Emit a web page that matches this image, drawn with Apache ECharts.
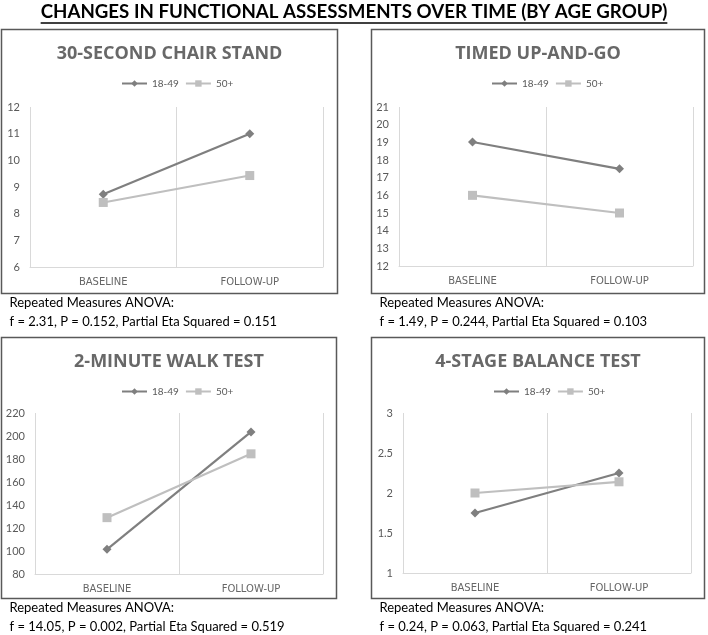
<!DOCTYPE html>
<html>
<head>
<meta charset="utf-8">
<script src="https://cdn.jsdelivr.net/npm/echarts@6/dist/echarts.min.js"></script>
<style>
  html, body { margin: 0; padding: 0; background: #fff; }
  #main { width: 708px; height: 635px; }
</style>
</head>
<body>
<div id="main"></div>
<script>
// data
var categories = ['BASELINE', 'FOLLOW-UP'];
var groups = ['18-49', '50+'];

var chairYoung = [8.73, 11.0];
var chairOld = [8.42, 9.43];
var tugYoung = [19.02, 17.5];
var tugOld = [16.0, 15.0];
var walkYoung = [101.5, 203.5];
var walkOld = [129, 184.5];
var balanceYoung = [1.75, 2.25];
var balanceOld = [2.0, 2.14];

var panelTitles = ['30-SECOND CHAIR STAND', 'TIMED UP-AND-GO', '2-MINUTE WALK TEST', '4-STAGE BALANCE TEST'];
var statLines = [
    'f = 2.31, P = 0.152, Partial Eta Squared = 0.151',
    'f = 1.49, P = 0.244, Partial Eta Squared = 0.103',
    'f = 14.05, P = 0.002, Partial Eta Squared = 0.519',
    'f = 0.24, P = 0.063, Partial Eta Squared = 0.241'
];
var yMin = [6, 12, 80, 1];
var yMax = [12, 21, 220, 3];
var yStep = [1, 1, 20, 0.5];

var mainTitle = 'CHANGES IN FUNCTIONAL ASSESSMENTS OVER TIME (BY AGE GROUP)';

var myChart = echarts.init(document.getElementById('main'));

// layout of the four panels (box + plot area)
var panels = [
    { box: [1.5, 29.5, 336, 264], grid: { left: 30, right: 385, top: 107, bottom: 368 }, legendX: 116 },
    { box: [371.5, 29.5, 333, 264], grid: { left: 399, right: 15, top: 107, bottom: 369 }, legendX: 486 },
    { box: [1.5, 337.5, 335, 261], grid: { left: 35, right: 385, top: 413, bottom: 61 }, legendX: 116 },
    { box: [371.5, 337.5, 333, 261], grid: { left: 403, right: 17, top: 413, bottom: 62 }, legendX: 488 }
];
var seriesData = [[chairYoung, chairOld], [tugYoung, tugOld], [walkYoung, walkOld], [balanceYoung, balanceOld]];

var DARK = '#7f7f7f';
var LIGHT = '#bfbfbf';
var FONT = 'Lato';

// measure the main title so the underline fits it
var ctx = document.createElement('canvas').getContext('2d');
ctx.font = 'bold 18.7px ' + FONT;
var titleW = ctx.measureText(mainTitle).width;

var grids = [], xAxes = [], yAxes = [], series = [], legends = [], graphics = [];

graphics.push({
    type: 'text', x: 354, y: 12,
    style: { text: mainTitle, font: 'bold 18.7px ' + FONT, fill: '#000', textAlign: 'center', textVerticalAlign: 'middle' }
});
graphics.push({
    type: 'line',
    shape: { x1: 354 - titleW / 2, y1: 23, x2: 354 + titleW / 2, y2: 23 },
    style: { stroke: '#000', lineWidth: 1.5 }
});

panels.forEach(function (p, i) {
    var b = p.box;
    graphics.push({
        type: 'rect', shape: { x: b[0], y: b[1], width: b[2], height: b[3] },
        style: { fill: 'none', stroke: '#595959', lineWidth: 1.5 }
    });
    graphics.push({
        type: 'text', x: b[0] + b[2] / 2, y: b[1] + 24,
        style: { text: panelTitles[i], font: 'bold 18px "Open Sans"', fill: '#686868', textAlign: 'center', textVerticalAlign: 'middle' }
    });
    graphics.push({
        type: 'text', x: b[0] + 8, y: b[1] + b[3] + 0.5,
        style: { text: 'Repeated Measures ANOVA:\n' + statLines[i], font: '13px ' + FONT, lineHeight: 18.5, fill: '#000', textAlign: 'left', textVerticalAlign: 'top' }
    });

    grids.push(p.grid);
    xAxes.push({
        type: 'category', gridIndex: i, data: categories,
        axisLine: { lineStyle: { color: '#d9d9d9' } },
        axisTick: { show: false },
        splitLine: { show: true, lineStyle: { color: '#d9d9d9' } },
        axisLabel: { color: '#666', fontSize: 10, fontFamily: '"DejaVu Sans"', margin: 10 }
    });
    yAxes.push({
        type: 'value', gridIndex: i, min: yMin[i], max: yMax[i], interval: yStep[i],
        axisLine: { show: false }, axisTick: { show: false }, splitLine: { show: false },
        axisLabel: { color: '#595959', fontSize: 11, fontFamily: FONT, margin: 10 }
    });
    legends.push({
        data: groups, left: p.legendX, top: b[1] + 44,
        itemWidth: 25, itemHeight: 8, itemGap: 6,
        textStyle: { color: '#595959', fontSize: 10, fontFamily: FONT }
    });
    series.push({
        name: groups[0], type: 'line', xAxisIndex: i, yAxisIndex: i,
        data: seriesData[i][0], symbol: 'diamond', symbolSize: 9,
        lineStyle: { color: DARK, width: 2.2 }, itemStyle: { color: DARK }
    });
    series.push({
        name: groups[1], type: 'line', xAxisIndex: i, yAxisIndex: i,
        data: seriesData[i][1], symbol: 'rect', symbolSize: 9,
        lineStyle: { color: LIGHT, width: 2.2 }, itemStyle: { color: LIGHT }
    });
});

var option = {
    animation: false,
    legend: legends,
    grid: grids,
    xAxis: xAxes,
    yAxis: yAxes,
    series: series,
    graphic: graphics
};
myChart.setOption(option);
</script>
</body>
</html>
